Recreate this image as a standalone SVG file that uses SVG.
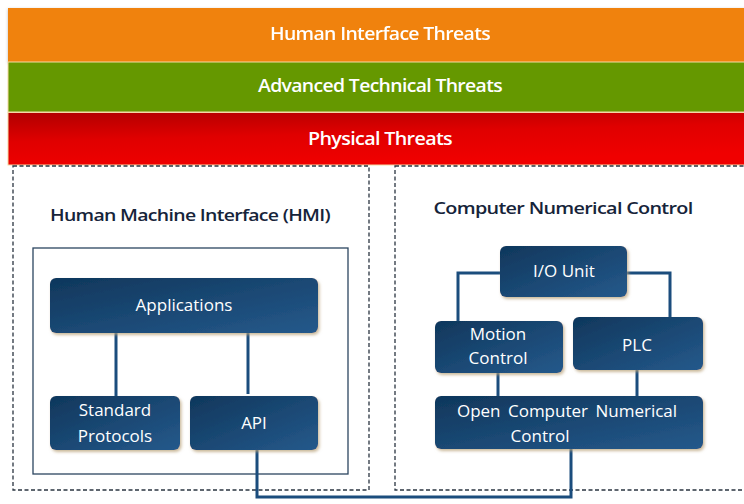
<svg xmlns="http://www.w3.org/2000/svg" width="744" height="504" viewBox="0 0 744 504">
  <defs>
    <linearGradient id="nodeFill" x1="0" y1="0" x2="1" y2="1">
      <stop offset="0" stop-color="#0f375c"/>
      <stop offset="1" stop-color="#25598b"/>
    </linearGradient>
    <linearGradient id="redFill" x1="0" y1="0" x2="0.35" y2="1">
      <stop offset="0" stop-color="#b00000"/>
      <stop offset="0.5" stop-color="#e00000"/>
      <stop offset="1" stop-color="#f00000"/>
    </linearGradient>
    <filter id="shadow" x="-10%" y="-10%" width="125%" height="130%">
      <feDropShadow dx="1.5" dy="2" stdDeviation="1.6" flood-color="#b9a27a" flood-opacity="0.75"/>
    </filter>
    <filter id="bandShadow" x="-5%" y="-10%" width="110%" height="130%">
      <feDropShadow dx="0" dy="1" stdDeviation="1.5" flood-color="#888" flood-opacity="0.6"/>
    </filter>
  </defs>
  <style>
    .band-text { font-family: "Open Sans", "Liberation Sans", sans-serif; font-size: 18px; font-weight: 600; fill: #ffffff; letter-spacing: -0.6px; }
    .title { font-family: "Open Sans", "Liberation Sans", sans-serif; font-size: 17px; font-weight: 600; fill: #16243a; letter-spacing: -0.6px; }
    .node rect { fill: url(#nodeFill); filter: url(#shadow); }
    .node text { font-family: "Open Sans", "Liberation Sans", sans-serif; font-size: 17px; fill: #ffffff; text-anchor: middle; }
    .frame-dashed { fill: #ffffff; stroke: #2a3440; stroke-width: 1.3; stroke-dasharray: 4 2.5; }
    .frame-solid { fill: none; stroke: #2c4560; stroke-width: 1.3; }
    .link { fill: none; stroke: #1b4d7d; stroke-width: 3; }
  </style>

  <rect width="744" height="504" fill="#ffffff"/>

  <!-- threat layers -->
  <g id="band-human" filter="url(#bandShadow)">
    <rect x="8" y="8" width="740" height="54" fill="#f0820b"/>
    <text class="band-text" x="380" y="40" text-anchor="middle" textLength="220" lengthAdjust="spacingAndGlyphs">Human Interface Threats</text>
  </g>
  <g id="band-technical">
    <rect x="8" y="62" width="740" height="50" fill="#659800" stroke="#f4d9a4" stroke-width="1"/>
    <text class="band-text" x="380" y="92" text-anchor="middle" textLength="244" lengthAdjust="spacingAndGlyphs">Advanced Technical Threats</text>
  </g>
  <g id="band-physical">
    <rect x="8" y="112.5" width="740" height="52.5" fill="url(#redFill)" stroke="#f4d9a4" stroke-width="1"/>
    <text class="band-text" x="380" y="145" text-anchor="middle" textLength="144" lengthAdjust="spacingAndGlyphs">Physical Threats</text>
  </g>

  <!-- HMI container -->
  <g id="hmi">
    <rect class="frame-dashed" x="13" y="166" width="356" height="324"/>
    <text class="title" x="190" y="221" text-anchor="middle" textLength="280" lengthAdjust="spacingAndGlyphs">Human Machine Interface (HMI)</text>
    <rect class="frame-solid" x="33" y="248" width="315" height="226"/>
  </g>

  <!-- CNC container -->
  <g id="cnc">
    <rect class="frame-dashed" x="395" y="166" width="356" height="324"/>
    <text class="title" x="563" y="214" text-anchor="middle" textLength="259" lengthAdjust="spacingAndGlyphs">Computer Numerical Control</text>
  </g>

  <!-- connectors -->
  <g id="connectors">
    <path class="link" d="M116 333 V396"/>
    <path class="link" d="M248 333 V394"/>
    <path class="link" d="M257 450 V497 H571 V449"/>
    <path class="link" d="M500 273 H458 V323"/>
    <path class="link" d="M627 273 H670 V319"/>
    <path class="link" d="M498 373 V396"/>
    <path class="link" d="M637 370 V396"/>
  </g>

  <!-- HMI nodes -->
  <g id="applications" class="node">
    <rect x="50" y="278" width="268" height="55" rx="6"/>
    <text x="184" y="311">Applications</text>
  </g>
  <g id="standard-protocols" class="node">
    <rect x="50" y="396" width="130" height="54" rx="6"/>
    <text x="115" y="416">Standard</text>
    <text x="115" y="442">Protocols</text>
  </g>
  <g id="api" class="node">
    <rect x="190" y="396" width="128" height="54" rx="6"/>
    <text x="254" y="429">API</text>
  </g>

  <!-- CNC nodes -->
  <g id="io-unit" class="node">
    <rect x="500" y="246" width="127" height="51" rx="6"/>
    <text x="564" y="277">I/O Unit</text>
  </g>
  <g id="motion-control" class="node">
    <rect x="435" y="321" width="128" height="52" rx="6"/>
    <text x="498" y="340">Motion</text>
    <text x="498" y="364">Control</text>
  </g>
  <g id="plc" class="node">
    <rect x="573" y="317" width="130" height="53" rx="6"/>
    <text x="637" y="351">PLC</text>
  </g>
  <g id="open-cnc" class="node">
    <rect x="435" y="396" width="268" height="53" rx="6"/>
    <text x="567" y="417" word-spacing="3">Open Computer Numerical</text>
    <text x="540" y="442">Control</text>
  </g>
</svg>
